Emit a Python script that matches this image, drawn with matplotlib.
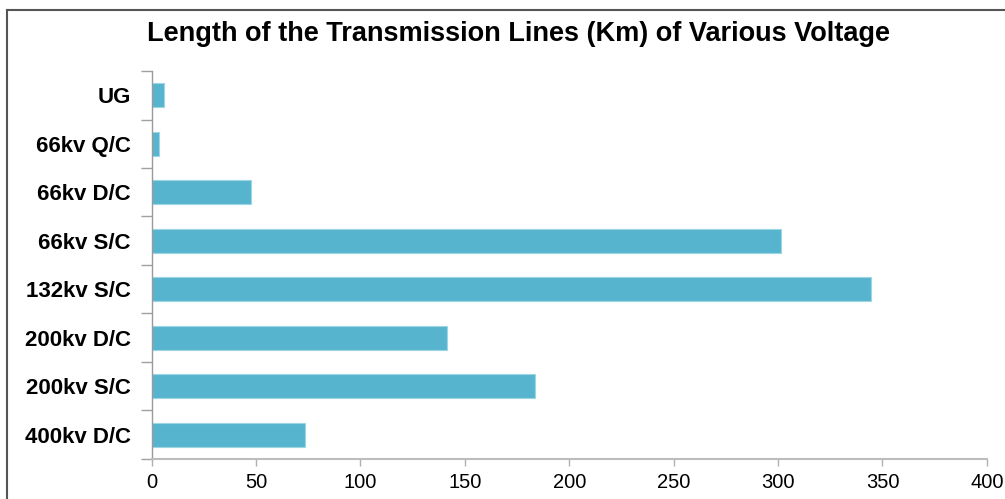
import matplotlib
matplotlib.use("Agg")
from matplotlib import pyplot as plt
from matplotlib.lines import Line2D
import numpy as np

categorias = ['UG', '66kv Q/C', '66kv D/C', '66kv S/C', '132kv S/C',
              '200kv D/C', '200kv S/C', '400kv D/C']
comprimentos = [6, 3.5, 47.5, 301.5, 344.5, 141.5, 183.5, 73.5]
marcas_x = [0, 50, 100, 150, 200, 250, 300, 350, 400]

plt.rcParams['font.family'] = ['Liberation Sans', 'DejaVu Sans']

fig = plt.figure(figsize=(10.05, 4.99), dpi=100)
ax = fig.add_axes([0.1508, 0.0802, 0.8312, 0.7775])

pos = np.arange(len(categorias))
ax.barh(pos, comprimentos, height=0.5, color='#57b4ce',
        edgecolor='#9dd5e4', linewidth=0.8)

ax.set_xlim(0, 400)
ax.set_ylim(len(categorias) - 0.5, -0.5)
ax.set_xticks(marcas_x)
ax.set_xticklabels([str(v) for v in marcas_x], fontsize=14.5)

# rótulos nas posições das barras, marcas nas divisões entre categorias
ax.set_yticks(pos)
ax.set_yticklabels(categorias, fontsize=16, fontweight='bold')
ax.tick_params(axis='y', which='major', length=0, pad=15)
ax.set_yticks(np.arange(-0.5, len(categorias)), minor=True)
ax.tick_params(axis='y', which='minor', length=8, width=1, color='#a0a0a0')
ax.tick_params(axis='x', length=5, width=1, color='#b0b0b0', pad=5)

for lado in ['top', 'right']:
    ax.spines[lado].set_visible(False)
ax.spines['left'].set_color('#9a9a9a')
ax.spines['left'].set_linewidth(1)
ax.spines['bottom'].set_color('#bdbdbd')
ax.spines['bottom'].set_linewidth(1.5)

fig.text(0.5155, 0.931, 'Length of the Transmission Lines (Km) of Various Voltage',
         ha='center', va='center', fontsize=19.5, fontweight='bold')

# moldura
fig.add_artist(Line2D([7 / 1005, 7 / 1005], [0, 1 - 10 / 499],
                      transform=fig.transFigure, color='#555555', lw=1.5))
fig.add_artist(Line2D([7 / 1005, 1], [1 - 10 / 499, 1 - 10 / 499],
                      transform=fig.transFigure, color='#555555', lw=1.5))

fig.savefig('out.png', dpi=100)
